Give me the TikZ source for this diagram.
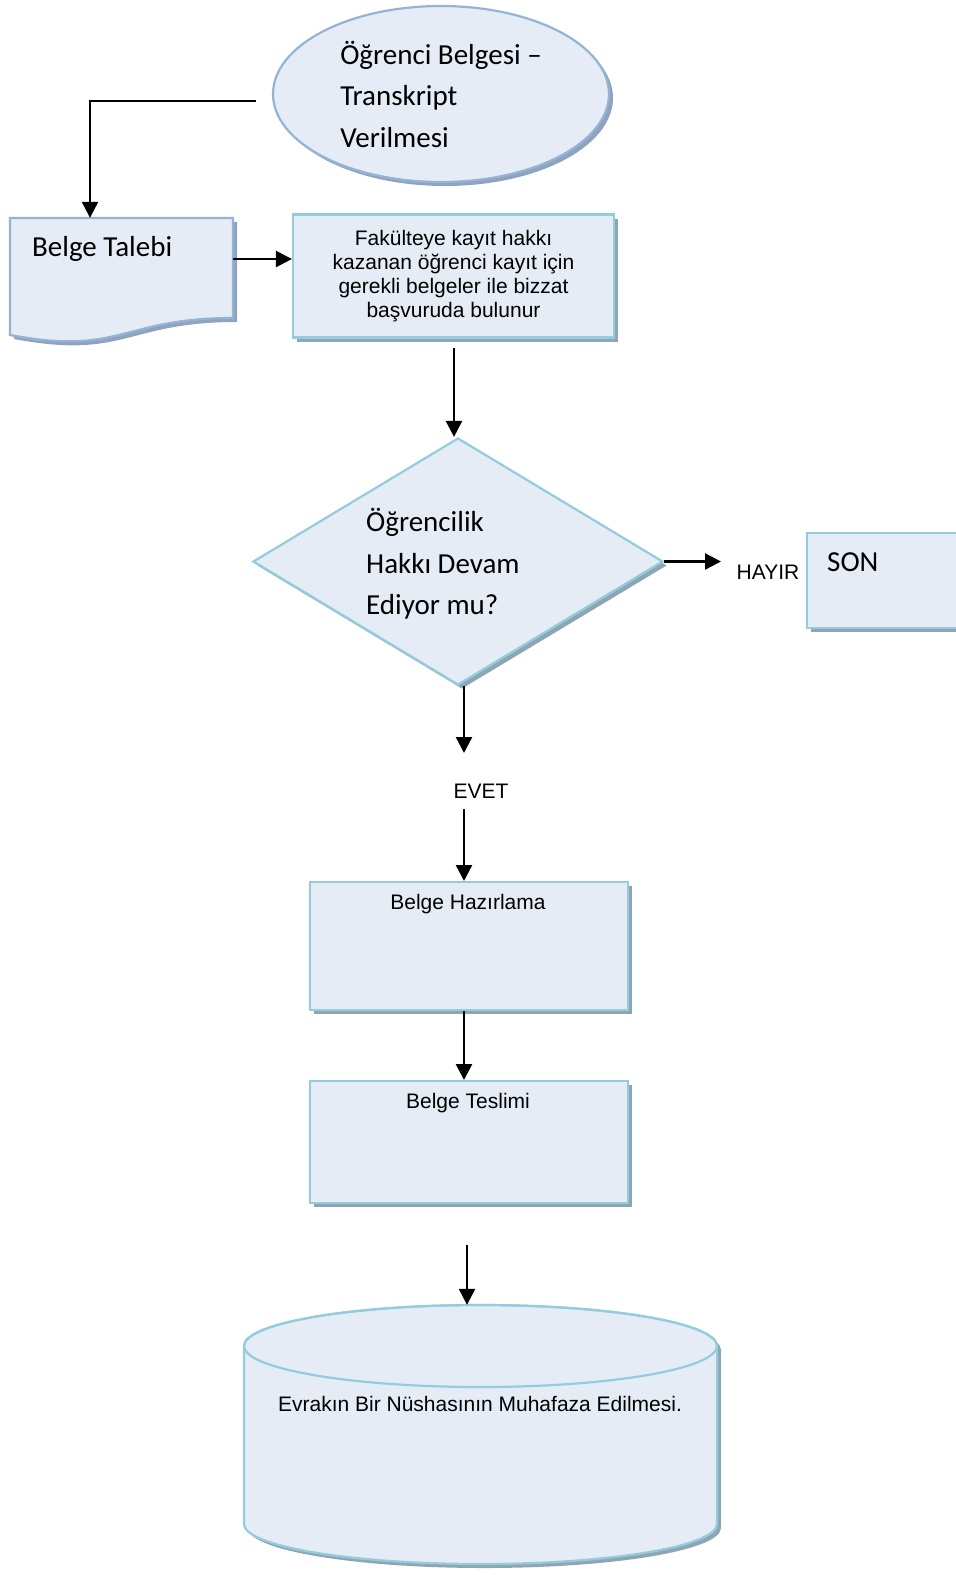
\documentclass[tikz,border=0pt]{standalone}
\usepackage{fontspec}
\setmainfont{Carlito}
\newfontfamily\arialf{Liberation Sans}
\usetikzlibrary{shapes.geometric,shadows,arrows.meta}
\definecolor{fillc}{HTML}{E6ECF6}
\definecolor{cyanb}{HTML}{93CDDD}
\definecolor{blueb}{HTML}{95B3D7}
\definecolor{shadc}{HTML}{8EA6B4}
\definecolor{shadb}{HTML}{8FA3BF}
\tikzset{
 shad/.style={drop shadow={shadow xshift=4pt,shadow yshift=-4pt,opacity=1,fill=shadc}},
 shadbl/.style={drop shadow={shadow xshift=4pt,shadow yshift=-4pt,opacity=1,fill=shadb}},
 boxc/.style={rectangle, draw=cyanb, fill=fillc, line width=2.2pt, inner sep=0pt, shad},
 arr/.style={line width=2.4pt, -{Triangle[length=16pt,width=16pt]}},
 cal/.style={font=\fontsize{29}{41.5}\selectfont, inner sep=0pt},
 ar/.style={font=\arialf\fontsize{21}{24}\selectfont, inner sep=0pt},
}
\begin{document}
\begin{tikzpicture}[x=1pt,y=-1pt]
\useasboundingbox (0,0) rectangle (956,1575);

% start ellipse
\node[ellipse, draw=blueb, fill=fillc, line width=2.2pt, minimum width=336, minimum height=176, inner sep=0pt, shadbl, cal, align=left] (start) at (441,94) {Öğrenci Belgesi –\\Transkript\\Verilmesi};

% document shape (Belge Talebi)
\node[minimum width=223, minimum height=101, inner sep=0pt] (talebi) at (121.5,268.5) {};
\path[fill=fillc, draw=blueb, line width=2.2pt, shadbl] (10,218) -- (233,218) -- (233,318) .. controls (121.5,318) and (121.5,356) .. (10,335) -- cycle;
\node[cal, anchor=west] (talebitxt) at (32,249) {Belge Talebi};

% box 1
\node[boxc, minimum width=321, minimum height=123, ar, align=center] (box1) at (453.5,276) {Fakülteye kayıt hakkı\\kazanan öğrenci kayıt için\\gerekli belgeler ile bizzat\\başvuruda bulunur};

% decision
\node[diamond, draw=cyanb, fill=fillc, line width=2.2pt, minimum width=410, minimum height=247, inner sep=0pt, shad] (q) at (458,561.5) {};
\node[cal, anchor=west, align=left] (qtxt) at (366,564) {Öğrencilik\\Hakkı Devam\\Ediyor mu?};

% SON box
\begin{scope}
\clip (0,0) rectangle (956,1575);
\node[boxc, minimum width=170, minimum height=95, anchor=north west] (son) at (806,532) {};
\end{scope}
\node[cal, anchor=west] (sontxt) at (827,562) {SON};
\node[ar] (hayir) at (768,572) {HAYIR};
\node[ar] (evet) at (481,791) {EVET};

% boxes
\node[boxc, minimum width=318, minimum height=128, anchor=north west] (hz) at (309,881) {};
\node[ar] (hztxt) at (468,904) {Belge Hazırlama};
\node[boxc, minimum width=318, minimum height=122, anchor=north west] (ts) at (309,1080) {};
\node[ar] (tstxt) at (468,1103) {Belge Teslimi};

% cylinder
\node[minimum width=473, minimum height=263, inner sep=0pt] (cyl) at (480.5,1436.5) {};
\path[fill=fillc, draw=cyanb, line width=2.2pt, shad] (244,1346) -- (244,1524) arc[start angle=180, end angle=0, x radius=236.5, y radius=40] -- (717,1346) arc[start angle=0, end angle=-180, x radius=236.5, y radius=41] -- cycle;
\draw[cyanb, line width=2.2pt] (480.5,1346) ellipse [x radius=236.5, y radius=41];
\node[ar] (cyltxt) at (480,1404) {Evrakın Bir Nüshasının Muhafaza Edilmesi.};

% connectors
\coordinate (s1) at (256,101);
\draw[arr] (s1) -| ([xshift=-31.5pt]talebi.north);
\draw[arr] ([yshift=9.5pt]talebi.east) -- ([yshift=17pt]box1.west);
\coordinate (s2) at (454,348);
\draw[arr] (s2) -- (s2 |- q.north);
\coordinate (h1) at (721,561.5);
\draw[arr] (q.east) -- (h1);
\coordinate (e1) at (464,753);
\draw[arr] (q.south -| e1) -- (e1);
\coordinate (e2) at (464,809);
\draw[arr] (e2) -- (e2 |- hz.north);
\draw[arr] (hz.south -| e2) -- (e2 |- ts.north);
\coordinate (e3) at (467,1245);
\draw[arr] (e3) -- (e3 |- cyl.north);
\end{tikzpicture}
\end{document}
